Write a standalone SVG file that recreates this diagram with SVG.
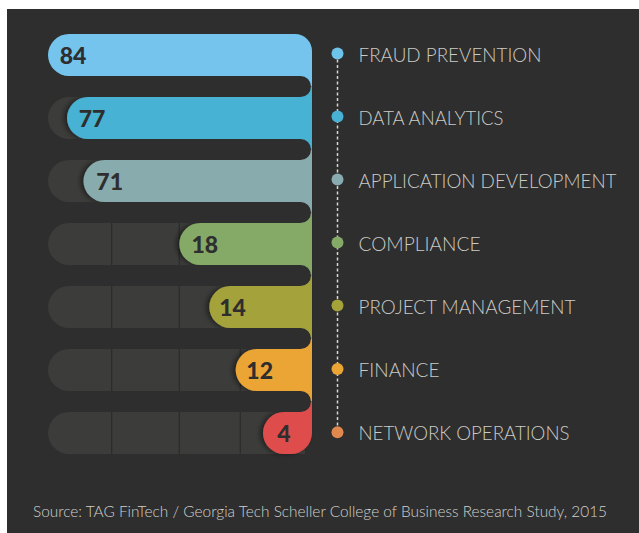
<svg xmlns="http://www.w3.org/2000/svg" width="639" height="533" viewBox="0 0 639 533">
<defs>
<style>
.track{fill:#3c3c3b}
.div{stroke:#2c2c2c;stroke-width:1.2}
.gap{fill:#2e2e2e}
.num{font-family:Lato,"Liberation Sans",sans-serif;font-weight:900;font-size:23px;fill:#2e2e2e;text-anchor:middle}
.lbl{font-family:Lato,"Liberation Sans",sans-serif;font-weight:300;font-size:19px;fill:#cbcbc6}
.src{font-family:Lato,"Liberation Sans",sans-serif;font-weight:300;font-size:15px;fill:#d0d0cc}
.dash{stroke:#d6d6d2;stroke-width:1.5;stroke-dasharray:3 2.5;fill:none}
</style>
<filter id="sh" x="-20%" y="-30%" width="140%" height="160%">
<feDropShadow dx="-3" dy="0" stdDeviation="2.5" flood-color="#000" flood-opacity="0.45"/>
</filter>
</defs>
<rect x="0" y="0" width="639" height="533" fill="#ffffff"/>
<rect x="7" y="9" width="632" height="524" fill="#2e2e2e"/>

<g id="tracks">
<path class="track" d="M69,97 H305 V139 H69 A21 21 0 0 1 69,97 Z"/>
<path class="track" d="M69,160 H305 V202 H69 A21 21 0 0 1 69,160 Z"/>
<path class="track" d="M69,223 H305 V265 H69 A21 21 0 0 1 69,223 Z"/>
<path class="track" d="M69,286 H305 V328 H69 A21 21 0 0 1 69,286 Z"/>
<path class="track" d="M69,349 H305 V391 H69 A21 21 0 0 1 69,349 Z"/>
<path class="track" d="M69,412 H305 V454 H69 A21 21 0 0 1 69,412 Z"/>
<path class="div" d="M111.7,97 V139 M111.7,160 V202 M111.7,223 V265 M111.7,286 V328 M111.7,349 V391 M111.7,412 V454 M179.3,223 V265 M179.3,286 V328 M179.3,349 V391 M179.3,412 V454 M240.3,349 V391 M240.3,412 V454"/>
</g>

<g id="bars">
<path fill="#74c4ee" d="M69,34 H295 A17 17 0 0 1 312,51 V86.5 H69 V76 A21 21 0 0 1 69,34 Z"/>
<path fill="#47b2d3" filter="url(#sh)" d="M88,97 V86.5 H312 V149.5 H88 V139 A21 21 0 0 1 88,97 Z"/>
<path fill="#88abad" filter="url(#sh)" d="M104.5,160 V149.5 H312 V212.5 H104.5 V202 A21 21 0 0 1 104.5,160 Z"/>
<path fill="#85aa67" filter="url(#sh)" d="M200.3,223 V212.5 H312 V275.5 H200.3 V265 A21 21 0 0 1 200.3,223 Z"/>
<path fill="#a4a33a" filter="url(#sh)" d="M230.3,286 V275.5 H312 V338.5 H230.3 V328 A21 21 0 0 1 230.3,286 Z"/>
<path fill="#eba535" filter="url(#sh)" d="M256.7,349 V338.5 H312 V401.5 H256.7 V391 A21 21 0 0 1 256.7,349 Z"/>
<path fill="#de4d4c" filter="url(#sh)" d="M284,412 V401.5 H312 V433 A21 21 0 0 1 291,454 H284 A21 21 0 0 1 284,412 Z"/>
</g>

<g id="gaps">
<path class="gap" d="M7,76 H300.5 A10.5 10.5 0 0 1 300.5,97 H7 Z"/>
<path class="gap" d="M7,139 H300.5 A10.5 10.5 0 0 1 300.5,160 H7 Z"/>
<path class="gap" d="M7,202 H300.5 A10.5 10.5 0 0 1 300.5,223 H7 Z"/>
<path class="gap" d="M7,265 H300.5 A10.5 10.5 0 0 1 300.5,286 H7 Z"/>
<path class="gap" d="M7,328 H300.5 A10.5 10.5 0 0 1 300.5,349 H7 Z"/>
<path class="gap" d="M7,391 H300.5 A10.5 10.5 0 0 1 300.5,412 H7 Z"/>
</g>

<g id="connectors">
<line class="dash" x1="337.5" y1="54" x2="337.5" y2="432"/>
</g>

<g id="fraud-prevention">
<text class="num" x="73" y="63.5">84</text>
<circle cx="337.5" cy="53.5" r="6" fill="#6ec3ea"/>
<text class="lbl" x="358.5" y="61.7" textLength="183" lengthAdjust="spacingAndGlyphs">FRAUD PREVENTION</text>
</g>
<g id="data-analytics">
<text class="num" x="92" y="126.5">77</text>
<circle cx="337.5" cy="116.5" r="6" fill="#47b2d3"/>
<text class="lbl" x="358.5" y="124.7" textLength="145" lengthAdjust="spacingAndGlyphs">DATA ANALYTICS</text>
</g>
<g id="application-development">
<text class="num" x="109.7" y="189.5">71</text>
<circle cx="337.5" cy="179.5" r="6" fill="#88abb0"/>
<text class="lbl" x="358.5" y="187.7" textLength="258" lengthAdjust="spacingAndGlyphs">APPLICATION DEVELOPMENT</text>
</g>
<g id="compliance">
<text class="num" x="204.8" y="252.5">18</text>
<circle cx="337.5" cy="242.5" r="6" fill="#85aa67"/>
<text class="lbl" x="358.5" y="250.7" textLength="122" lengthAdjust="spacingAndGlyphs">COMPLIANCE</text>
</g>
<g id="project-management">
<text class="num" x="232.5" y="315.5">14</text>
<circle cx="337.5" cy="305.5" r="6" fill="#a4a33a"/>
<text class="lbl" x="358.5" y="313.7" textLength="217" lengthAdjust="spacingAndGlyphs">PROJECT MANAGEMENT</text>
</g>
<g id="finance">
<text class="num" x="259.7" y="378.5">12</text>
<circle cx="337.5" cy="369" r="6" fill="#eba535"/>
<text class="lbl" x="358.5" y="376.7" textLength="81" lengthAdjust="spacingAndGlyphs">FINANCE</text>
</g>
<g id="network-operations">
<text class="num" x="283.9" y="441.5">4</text>
<circle cx="337.5" cy="432.3" r="6" fill="#e0884e"/>
<text class="lbl" x="358.5" y="439.7" textLength="211" lengthAdjust="spacingAndGlyphs">NETWORK OPERATIONS</text>
</g>

<text class="src" x="33" y="517" textLength="574" lengthAdjust="spacingAndGlyphs">Source: TAG FinTech / Georgia Tech Scheller College of Business Research Study, 2015</text>
</svg>
